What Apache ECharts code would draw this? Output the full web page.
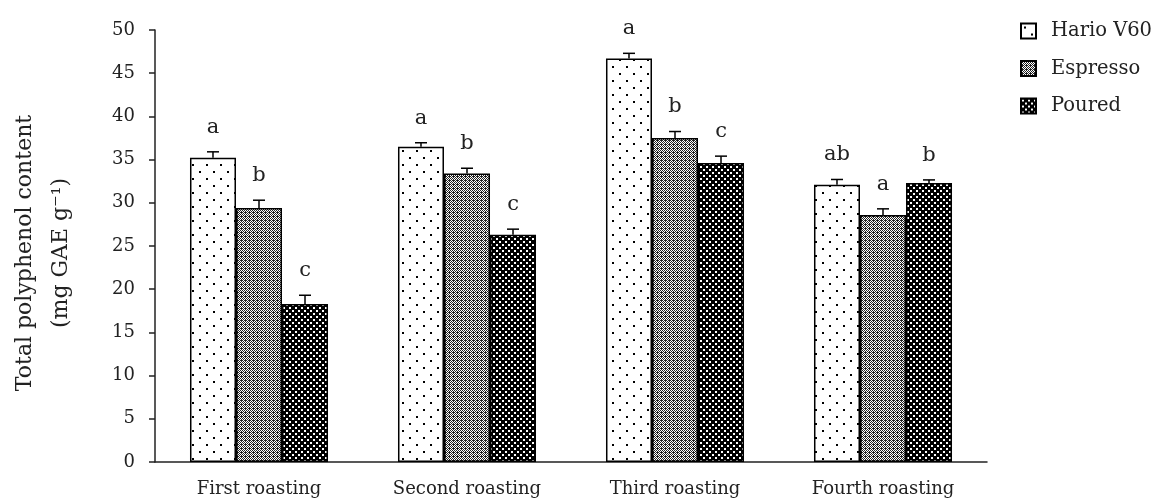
<!DOCTYPE html>
<html>
<head>
<meta charset="utf-8">
<script src="https://cdn.jsdelivr.net/npm/echarts@6/dist/echarts.min.js"></script>
<style>html,body{margin:0;padding:0;background:#fff;}#c{width:1156px;height:501px;}</style>
</head>
<body>
<div id="c"></div>
<script>
const categories = ['First roasting', 'Second roasting', 'Third roasting', 'Fourth roasting'];
const seriesNames = ['Hario V60', 'Espresso', 'Poured'];
const harioValues = [35.2, 36.5, 46.7, 32.1];
const espressoValues = [29.4, 33.4, 37.5, 28.6];
const pouredValues = [18.3, 26.3, 34.6, 32.3];
const harioErrors = [0.7, 0.45, 0.6, 0.6];
const espressoErrors = [0.9, 0.6, 0.75, 0.7];
const pouredErrors = [1.0, 0.65, 0.8, 0.35];
const harioLetters = ['a', 'a', 'a', 'ab'];
const espressoLetters = ['b', 'b', 'b', 'a'];
const pouredLetters = ['c', 'c', 'c', 'b'];
const yTicks = [0, 5, 10, 15, 20, 25, 30, 35, 40, 45, 50];

const FONT = 'DejaVu Serif';

function makePattern(size, draw) {
  const cv = document.createElement('canvas');
  cv.width = size; cv.height = size;
  const ctx = cv.getContext('2d');
  draw(ctx, size);
  return { image: cv, repeat: 'repeat' };
}
const dotPattern = makePattern(14, (ctx) => {
  ctx.fillStyle = '#fff'; ctx.fillRect(0, 0, 14, 14);
  ctx.fillStyle = '#000';
  ctx.fillRect(3, 3, 2, 2);
  ctx.fillRect(10, 10, 2, 2);
});
const checkPattern = makePattern(4, (ctx) => {
  ctx.fillStyle = '#fff'; ctx.fillRect(0, 0, 4, 4);
  ctx.fillStyle = '#222';
  for (let y = 0; y < 4; y++) for (let x = 0; x < 4; x++) {
    if ((x + y) % 2 === 0) ctx.fillRect(x, y, 1, 1);
  }
  ctx.fillRect(1, 0, 1, 1);
});
const crossPattern = makePattern(6, (ctx) => {
  ctx.fillStyle = '#000'; ctx.fillRect(0, 0, 6, 6);
  ctx.fillStyle = '#fff';
  ctx.fillRect(1, 1, 2, 2);
  ctx.fillRect(4, 4, 2, 2);
});

const patterns = [dotPattern, checkPattern, crossPattern];
const valueSets = [harioValues, espressoValues, pouredValues];
const errorSets = [harioErrors, espressoErrors, pouredErrors];
const letterSets = [harioLetters, espressoLetters, pouredLetters];
const BAR_FRAC = 0.2212;

const barSeries = seriesNames.map((name, i) => ({
  name: name,
  type: 'bar',
  data: valueSets[i],
  barWidth: (BAR_FRAC * 100) + '%',
  barGap: '0%',
  itemStyle: { color: patterns[i], borderColor: '#000', borderWidth: 1.5 },
  emphasis: { disabled: true },
  animation: false
}));

const errSeries = seriesNames.map((name, i) => ({
  name: name + ' err',
  type: 'custom',
  clip: false,
  animation: false,
  silent: true,
  data: valueSets[i].map((v, k) => [k, v, errorSets[i][k]]),
  renderItem: function (params, api) {
    const cat = api.value(0), v = api.value(1), e = api.value(2);
    const letter = letterSets[i][params.dataIndex];
    const band = api.size([1, 0])[0];
    const bw = band * BAR_FRAC;
    const cx = api.coord([cat, 0])[0] + (i - 1) * bw;
    const yTop = api.coord([cat, v])[1];
    const yCap = api.coord([cat, v + e])[1];
    const st = { stroke: '#000', lineWidth: 1.5 };
    return {
      type: 'group',
      children: [
        { type: 'line', shape: { x1: cx, y1: yTop, x2: cx, y2: yCap }, style: st },
        { type: 'line', shape: { x1: cx - 6, y1: yCap, x2: cx + 6, y2: yCap }, style: st },
        { type: 'text', style: { text: letter, x: cx, y: yCap - 14, textAlign: 'center', textVerticalAlign: 'bottom', fill: '#222', font: '21px "' + FONT + '"' } }
      ]
    };
  }
}));

const chart = echarts.init(document.getElementById('c'), null, { renderer: 'canvas' });
chart.setOption({
  backgroundColor: '#fff',
  animation: false,
  textStyle: { fontFamily: FONT, color: '#222' },
  grid: { left: 155, right: 169, top: 30, bottom: 39, containLabel: false, outerBoundsMode: 'none' },
  legend: {
    data: seriesNames,
    orient: 'vertical',
    left: 1015,
    top: 16,
    icon: 'rect',
    itemWidth: 15,
    itemHeight: 15,
    itemGap: 17.5,
    textStyle: { fontFamily: FONT, fontSize: 19.5, color: '#222', padding: [0, 0, 0, 10] },
    selectedMode: false
  },
  xAxis: {
    type: 'category',
    data: categories,
    axisLine: { lineStyle: { color: '#222', width: 1.5 } },
    axisTick: { alignWithLabel: true, length: 6, lineStyle: { color: '#222', width: 1.5 } },
    axisLabel: { fontFamily: FONT, fontSize: 18, color: '#222', margin: 18 }
  },
  yAxis: {
    type: 'value',
    min: 0,
    max: 50,
    interval: 5,
    splitLine: { show: false },
    axisLine: { show: true, lineStyle: { color: '#222', width: 1.5 } },
    axisTick: { show: true, length: 6, lineStyle: { color: '#222', width: 1.5 } },
    axisLabel: { fontFamily: FONT, fontSize: 18, color: '#222', margin: 20,
      formatter: (v) => yTicks.indexOf(v) >= 0 ? String(v) : '' },
    name: 'Total polyphenol content\n(mg GAE g\u207B\u00B9)',
    nameLocation: 'middle',
    nameGap: 76,
    nameRotate: 90,
    nameTextStyle: { fontFamily: FONT, fontSize: 22, color: '#222', lineHeight: 36, padding: [0, 14, 0, 0] }
  },
  series: barSeries.concat(errSeries)
});
</script>
</body>
</html>
